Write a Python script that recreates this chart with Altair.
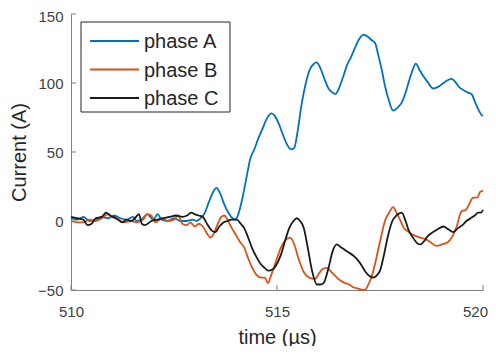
import altair as alt
import pandas as pd

# ---- data ----
t_a = [510.0, 510.15, 510.3, 510.45, 510.6, 510.75, 510.9, 511.05, 511.2, 511.35, 511.5, 511.6,
       511.75, 511.85, 512.0, 512.1, 512.2, 512.35, 512.5, 512.65, 512.8, 512.95, 513.05, 513.15,
       513.25, 513.35, 513.45, 513.53, 513.62, 513.72, 513.82, 513.92, 513.98, 514.05, 514.15,
       514.25, 514.35, 514.45, 514.55, 514.65, 514.75, 514.87, 514.95, 515.05, 515.15, 515.25,
       515.35, 515.42, 515.5, 515.6, 515.7, 515.8, 515.9, 515.96, 516.05, 516.15, 516.25, 516.35,
       516.42, 516.5, 516.6, 516.7, 516.8, 516.9, 517.0, 517.1, 517.18, 517.3, 517.38, 517.46,
       517.54, 517.62, 517.7, 517.82, 517.92, 518.03, 518.12, 518.2, 518.3, 518.37, 518.45,
       518.55, 518.65, 518.79, 518.9, 519.04, 519.14, 519.24, 519.32, 519.42, 519.52, 519.64,
       519.72, 519.81, 519.9, 519.96, 520.0]
v_a = [2, 1, 3, 0, 1, 3, 2, 4, 2, 1, 3, 0,
       2, 5, 1, 5, 1, 0, 2, 0, 0, 1, 0, 2,
       6, 14, 21, 24, 20, 12, 6, 2, 1, 4, 15,
       30, 45, 52, 60, 67, 74, 78, 76, 70, 62, 55,
       52, 53, 65, 85, 100, 110, 114, 115, 111, 103, 96, 93,
       92, 96, 104, 113, 119, 126, 132, 135, 134, 131, 129, 120,
       110, 98, 89, 80, 82, 86, 93, 101, 110, 114, 110,
       105, 101, 96, 97, 100, 102, 103, 101, 97, 95, 93,
       92, 86, 80, 77, 76]

t_b = [510.0, 510.15, 510.3, 510.45, 510.6, 510.75, 510.9, 511.0, 511.15, 511.3, 511.45, 511.6,
       511.75, 511.85, 511.95, 512.05, 512.2, 512.35, 512.5, 512.6, 512.7, 512.81, 512.9, 513.0,
       513.1, 513.2, 513.3, 513.38, 513.45, 513.55, 513.65, 513.72, 513.8, 513.9, 514.0, 514.1,
       514.2, 514.3, 514.4, 514.5, 514.6, 514.7, 514.78, 514.85, 514.92, 515.0, 515.1, 515.2,
       515.32, 515.42, 515.52, 515.65, 515.78, 515.92, 516.02, 516.1, 516.21, 516.32, 516.42,
       516.53, 516.65, 516.75, 516.85, 516.97, 517.08, 517.14, 517.2, 517.3, 517.38, 517.5,
       517.62, 517.72, 517.82, 517.9, 518.0, 518.08, 518.15, 518.3, 518.47, 518.6, 518.75,
       518.87, 519.0, 519.16, 519.26, 519.36, 519.48, 519.58, 519.66, 519.76, 519.86, 519.93,
       520.0]
v_b = [0, -1, -1, 1, 0, 2, 5, 3, 1, -1, 0, -1,
       1, 5, 4, -1, 2, 0, 1, 4, -2, -3, -1, -4,
       -2, -4, -9, -12, -10, -3, 3, 4, 1, -5, -10, -15,
       -19, -27, -34, -39, -41, -41, -45, -40, -34, -27, -19, -14,
       -12, -17, -27, -37, -41, -42, -38, -35, -34, -37, -40,
       -43, -45, -46, -48, -49, -50, -50, -47, -40, -31, -15,
       0, 6, 10, 6, 0, -5, -7, -10, -12, -13, -16,
       -18, -17, -15, -11, -4, 7, 8, 12, 17, 17, 21,
       22]

t_c = [510.0, 510.15, 510.3, 510.4, 510.5, 510.6, 510.75, 510.85, 510.95, 511.1, 511.25, 511.35,
       511.45, 511.55, 511.65, 511.72, 511.8, 511.95, 512.1, 512.25, 512.4, 512.55, 512.7, 512.82,
       512.92, 513.0, 513.1, 513.2, 513.3, 513.42, 513.5, 513.6, 513.7, 513.8, 513.9, 514.02,
       514.12, 514.2, 514.3, 514.4, 514.5, 514.6, 514.7, 514.79, 514.9, 515.0, 515.1, 515.2,
       515.3, 515.4, 515.48, 515.56, 515.65, 515.75, 515.85, 515.97, 516.05, 516.13, 516.25,
       516.35, 516.45, 516.55, 516.65, 516.75, 516.85, 516.95, 517.05, 517.15, 517.25, 517.32,
       517.4, 517.5, 517.6, 517.7, 517.8, 517.9, 518.03, 518.12, 518.2, 518.3, 518.4, 518.48,
       518.56, 518.66, 518.79, 518.9, 519.04, 519.16, 519.28, 519.4, 519.5, 519.6, 519.7,
       519.8, 519.88, 519.95, 520.0]
v_c = [3, 2, 1, -3, -2, 2, 3, 6, 4, 2, -1, 1,
       0, 2, 5, -2, -3, 0, 1, 2, 3, 4, 3, 4,
       6, 5, 4, 3, -2, -7, -8, -4, -1, 0, 1, 1,
       -2, -5, -12, -20, -26, -31, -34, -36, -35, -31, -24, -14,
       -5, 0, 2, 0, -5, -20, -36, -46, -46, -45, -34,
       -22, -17, -19, -21, -23, -25, -28, -32, -37, -40, -41,
       -40, -36, -24, -10, 0, 4, 6, 0, -7, -12, -16, -17,
       -15, -11, -8, -6, -4, -6, -8, -5, -3, 0, 2,
       4, 6, 6, 8]

series_names = ["phase A", "phase B", "phase C"]
series_colors = ["#0072BD", "#D95319", "#1a1a1a"]

x_ticks = [510, 515, 520]
y_ticks = [-50, 0, 50, 100, 150]

rows = []
for name, ts, vs in zip(series_names, [t_a, t_b, t_c], [v_a, v_b, v_c]):
    for i, (t, v) in enumerate(zip(ts, vs)):
        rows.append({"time": t, "current": v, "series": name, "order": i})
df = pd.DataFrame(rows)
legend_df = pd.DataFrame({"series": series_names, "idx": list(range(len(series_names)))})

W, H = 412, 276
FONT = "Liberation Sans"
AXIS_COLOR = "#808080"
TEXT_COLOR = "#404040"

x_scale = alt.Scale(domain=[510, 520], nice=False, zero=False)
y_scale = alt.Scale(domain=[-50, 150], nice=False, zero=False)
color_scale = alt.Scale(domain=series_names, range=series_colors)

lines = alt.Chart(df).mark_line(strokeWidth=1.8, interpolate="monotone").encode(
    x=alt.X("time:Q", scale=x_scale,
            axis=alt.Axis(title="time (µs)", values=x_ticks, ticks=False, grid=False,
                          labelFlush=False, labelPadding=14, titlePadding=8,
                          labelOffset=alt.condition(f"datum.value == {x_ticks[-1]}",
                                                    alt.value(-8), alt.value(0)))),
    y=alt.Y("current:Q", scale=y_scale,
            axis=alt.Axis(title="Current (A)", values=y_ticks, ticks=False, grid=False,
                          labelFlush=False, labelPadding=8, titlePadding=8,
                          labelOffset=alt.condition(f"datum.value == {y_ticks[-1]}",
                                                    alt.value(2), alt.value(0)))),
    color=alt.Color("series:N", scale=color_scale, legend=None),
    order="order:Q",
)

xt = alt.Chart(pd.DataFrame({"t": x_ticks})).mark_rule(color=AXIS_COLOR, strokeWidth=1).encode(
    x=alt.X("t:Q", scale=x_scale), y=alt.value(H), y2=alt.value(H - 5))
yt = alt.Chart(pd.DataFrame({"v": y_ticks})).mark_rule(color=AXIS_COLOR, strokeWidth=1).encode(
    y=alt.Y("v:Q", scale=y_scale, axis=None), x=alt.value(0), x2=alt.value(5))

# manual legend (box + stroke symbols + labels)
box = alt.Chart(pd.DataFrame({"k": [0]})).mark_rect(
    fill="white", stroke="#262626", strokeWidth=1).encode(
    x=alt.value(10), x2=alt.value(159), y=alt.value(8), y2=alt.value(98))
leg_y = alt.Y("idx:O", scale=alt.Scale(type="point", range=[27, 84], padding=0), axis=None)
leg_lines = alt.Chart(legend_df).mark_rule(strokeWidth=2).encode(
    x=alt.value(19), x2=alt.value(68), y=leg_y,
    color=alt.Color("series:N", scale=color_scale, legend=None))
leg_text = alt.Chart(legend_df).mark_text(
    align="left", baseline="middle", font=FONT, fontSize=20, color="#262626", dy=1).encode(
    x=alt.value(73), y=leg_y, text="series:N")

chart = alt.layer(lines, xt, yt, box, leg_lines, leg_text).resolve_scale(
    y="independent"
).properties(
    width=W, height=H,
    autosize=alt.AutoSizeParams(type="none"),
    padding={"left": 63, "top": 6, "right": 5, "bottom": 56},
).configure_view(stroke=None).configure_axis(
    domainColor=AXIS_COLOR, domainWidth=1,
    labelFont=FONT, labelFontSize=15, labelColor=TEXT_COLOR,
    titleFont=FONT, titleFontSize=20, titleColor="#262626", titleFontWeight="normal",
)

chart.save("out.html", embed_options={"renderer": "svg", "actions": False})
